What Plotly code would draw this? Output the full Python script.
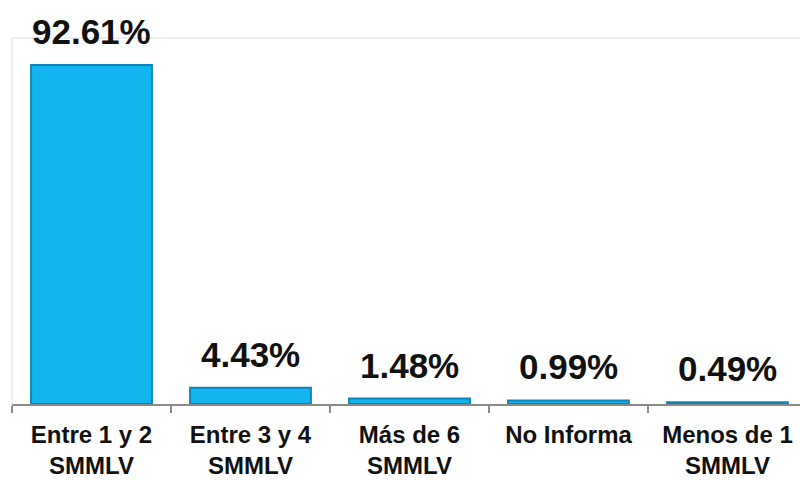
import plotly.graph_objects as go

categories = ["Entre 1 y 2<br>SMMLV", "Entre 3 y 4<br>SMMLV", "Más de 6<br>SMMLV", "No Informa", "Menos de 1<br>SMMLV"]
values = [92.61, 4.43, 1.48, 0.99, 0.49]
value_labels = ["92.61%", "4.43%", "1.48%", "0.99%", "0.49%"]

FONT = "Liberation Sans, Arial, sans-serif"

fig = go.Figure()
fig.add_trace(go.Bar(
    x=categories, y=values, width=0.76,
    marker=dict(color="#12B5EE", line=dict(color="#0C86B8", width=2)),
    hoverinfo="skip",
))

for c, v, t in zip(categories, values, value_labels):
    fig.add_annotation(x=c, y=v, text=t, showarrow=False, yanchor="bottom", yshift=12,
                       font=dict(family=FONT, size=35, color="#111111", weight="bold"))

fig.update_layout(
    width=800, height=483,
    margin=dict(l=12, r=0, t=38, b=79),
    paper_bgcolor="white", plot_bgcolor="white",
    showlegend=False,
    xaxis=dict(type="category", range=[-0.5, 4.456], showline=True, linecolor="#8a8a8a", linewidth=1.5,
               ticks="outside", tickson="boundaries", ticklen=7, tickcolor="#8a8a8a", tickwidth=1.5,
               showgrid=False, automargin=False, ticklabelstandoff=8,
               tickfont=dict(family=FONT, size=24, color="#111111", weight="bold")),
    yaxis=dict(range=[0, 100], visible=False, automargin=False),
    shapes=[
        dict(type="line", xref="paper", yref="paper", x0=0, x1=0, y0=0, y1=1, line=dict(color="#dddddd", width=1)),
        dict(type="line", xref="paper", yref="paper", x0=0, x1=1, y0=1, y1=1, line=dict(color="#dddddd", width=1)),
    ],
)

fig.write_html("out.html", config={"displayModeBar": False},
               post_script="document.body.style.margin='0';document.body.style.overflow='hidden';")
